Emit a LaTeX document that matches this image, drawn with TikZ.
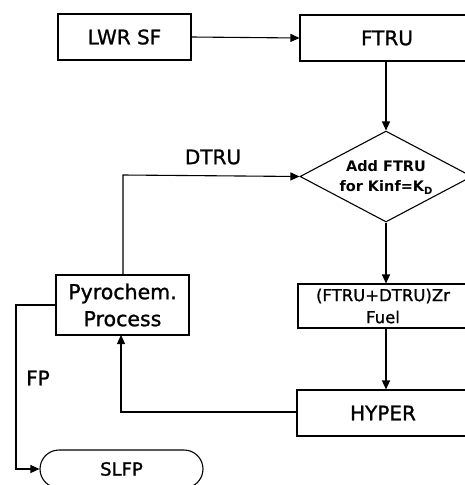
\documentclass[tikz,border=0pt]{standalone}
\usepackage{fontspec}
\setmainfont{DejaVu Sans}[RawFeature={embolden=1.2}]
\newfontfamily\diafont{DejaVu Sans Bold}
\usetikzlibrary{arrows.meta,shapes.geometric}
\begin{document}
\begin{tikzpicture}[x=1pt,y=-1pt,
  box/.style={draw,line width=1.1pt,inner sep=0pt,font=\fontsize{20}{22}\selectfont},
  lbl/.style={inner sep=0pt,font=\fontsize{20}{22}\selectfont},
  arr/.style={line width=1.1pt,-{Triangle[length=9pt,width=8pt]}}]
\useasboundingbox (0,0) rectangle (465,485);
\clip (0,0) rectangle (465,485);
\node[box,minimum width=133pt,minimum height=46pt] (lwr) at (124.5,37) {LWR SF};
\node[box,minimum width=174pt,minimum height=46pt] (ftru) at (387,38) {FTRU};
\node[draw,line width=1.1pt,diamond,aspect=1.9,minimum width=172pt,minimum height=91pt,inner sep=0pt] (dia) at (386,176.5) {};
\node[inner sep=0pt,font=\diafont\fontsize{14.5}{17}\selectfont,align=center] (diat) at (386,177) {Add FTRU\\[3pt]for Kinf=K\raisebox{-3pt}{\fontsize{10}{10}\selectfont D}};
\node[box,minimum width=133pt,minimum height=60pt,align=center,font=\fontsize{20.5}{27}\selectfont] (pyro) at (122.5,305) {Pyrochem.\\Process};
\node[box,minimum width=170pt,minimum height=44pt,align=center,font=\fontsize{16.5}{22}\selectfont] (fuel) at (383,306) {(FTRU+DTRU)Zr\\Fuel};
\node[box,minimum width=172pt,minimum height=46pt] (hyper) at (383,413) {HYPER};
\node[draw,line width=1.1pt,rounded corners=19pt,minimum width=163pt,minimum height=38pt,inner sep=0pt,font=\fontsize{18}{20}\selectfont] (slfp) at (121.5,469) {SLFP};
\node[lbl] (dtrul) at (213,157) {DTRU};
\node[lbl] (fpl) at (38,378) {FP};
\draw[arr] (lwr.east) -- (ftru.west);
\draw[arr] (ftru.south -| dia.north) -- (dia.north);
\draw[arr] (dia.south) -- (dia.south |- fuel.north);
\draw[arr] (dia.south |- fuel.south) -- (dia.south |- hyper.north);
\draw[arr] (123,275) -- (123,175) -- (dia.west);
\draw[arr] (hyper.west |- 0,412) -- (121,412) -- (121,335);
\draw[arr] (pyro.west |- 0,305) -- (16,305) -- (16,469) -- (slfp.west);
\end{tikzpicture}
\end{document}
